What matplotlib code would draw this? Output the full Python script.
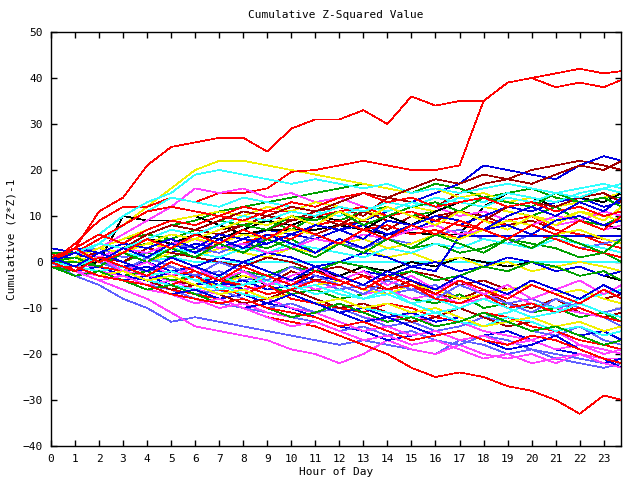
import matplotlib
matplotlib.use("Agg")
from matplotlib import pyplot as plt

# sample times (hour of day), one value per hour plus the last quarter
hours = list(range(24)) + [23.75]

# cumulative (Z*Z)-1 runs, grouped by line colour
red_lines = [
    [0, 3, 11, 14, 21, 25, 26, 27, 27, 24, 29, 31, 31, 33, 30, 36, 34, 35, 35, 39, 40, 38, 39, 38, 39.6],
    [0, 4, 9, 12, 12, 14, 13, 15, 15, 16, 19.6, 20, 21, 22, 21, 20, 20, 21, 35, 39, 40, 41, 42, 41, 41.5],
    [0, -1, -2, -3, -4, -6, -7, -8, -10, -12, -13, -14, -16, -18, -20, -23, -25, -24, -25, -27, -28, -30, -33, -29, -30],
    [1, 2, 5, 8, 11, 12, 11, 10, 12, 11, 11, 10, 11, 12, 10, 11, 9, 8, 7, 9, 10, 7, 6, 4, 3],
    [0, -1, 1, 3, 2, 4, 5, 3, 4, 6, 5, 8, 9, 7, 8, 6, 7, 5, 9, 8, 6, 5, 3, 2, 1],
    [2, -2, -3, -2, -4, -5, -3, -6, -7, -5, -8, -9, -10, -11, -9, -10, -12, -13, -11, -12, -14, -15, -17, -18, -19],
    [0, 1, -1, -2, 0, -3, -2, -4, -5, -7, -6, -4, -5, -3, -6, -5, -8, -9, -7, -10, -9, -11, -10, -12, -13],
    [0, 3, 6, 4, 7, 9, 8, 10, 9, 11, 13, 12, 14, 15, 13, 14, 12, 13, 14, 12, 13, 11, 12, 10, 11],
    [-1, -1, -3, -4, -5, -7, -8, -9, -8, -10, -11, -12, -14, -13, -15, -17, -16, -15, -17, -18, -16, -17, -19, -21, -22],
    [0, -2, 1, -1, -3, 0, -2, -4, -1, -3, -5, -2, -4, -6, -3, -5, -7, -4, -6, -8, -5, -7, -9, -6, -8],
    [1, 3, 0, 2, 5, 3, 6, 4, 7, 5, 8, 6, 4, 7, 5, 8, 6, 9, 7, 5, 8, 6, 9, 7, 10],
]
darkred_lines = [
    [0, 1, 3, 2, 4, 6, 5, 7, 8, 10, 9, 11, 12, 10, 14, 13, 12, 15, 17, 18, 20, 21, 22, 21, 20],
    [1, -1, 0, 2, 1, 3, 2, 4, 6, 5, 7, 6, 8, 9, 7, 10, 9, 11, 10, 8, 9, 7, 6, 5, 4],
    [0, -2, -1, -3, -2, -4, -5, -3, -6, -5, -2, -4, -3, -5, -6, -4, -7, -8, -6, -9, -10, -8, -11, -12, -11],
    [2, 2, 1, 0, 3, 2, 1, 0, -1, 1, 0, -2, -1, -3, -4, -2, -3, -5, -4, -6, -5, -7, -6, -8, -7],
    [0, 1, 2, 4, 3, 5, 7, 6, 8, 7, 9, 10, 8, 11, 9, 8, 10, 11, 9, 12, 13, 12, 14, 15, 13],
    [0, -1, -3, -2, -4, -6, -5, -7, -9, -8, -6, -8, -10, -9, -11, -13, -12, -10, -12, -14, -13, -15, -14, -16, -15],
    [0, 2, 4, 3, 6, 8, 7, 9, 11, 10, 12, 11, 13, 15, 14, 16, 18, 17, 19, 18, 17, 19, 21, 20, 22],
]
green_lines = [
    [0, 1, 3, 5, 6, 8, 9, 11, 12, 13, 14, 15, 16, 17, 16, 15, 17, 16, 14, 15, 16, 14, 13, 14, 14],
    [1, 2, 1, 3, 4, 5, 7, 6, 8, 9, 7, 10, 9, 11, 12, 10, 11, 13, 12, 11, 10, 12, 9, 8, 10],
    [0, -1, 1, 0, 2, 1, 3, 2, 4, 3, 5, 2, 4, 6, 5, 3, 4, 2, 3, 5, 4, 3, 1, 2, 0],
    [-1, -2, -3, -2, -4, -3, -5, -4, -6, -5, -7, -6, -8, -7, -6, -8, -9, -7, -10, -9, -11, -10, -12, -11, -13],
    [0, 0, -1, -3, -2, -4, -3, -5, -2, -3, -1, -2, 0, -1, -3, -2, -4, -3, -1, -2, 0, -1, -3, -2, -4],
    [2, 2, 4, 3, 6, 5, 7, 9, 8, 7, 10, 9, 11, 8, 10, 12, 13, 11, 14, 13, 12, 15, 13, 14, 12],
    [0, 1, -1, 2, 0, 3, 1, 4, 2, 5, 3, 1, 4, 2, 5, 3, 6, 4, 2, 5, 3, 6, 4, 2, 5],
    [-1, -3, -2, -4, -6, -5, -7, -9, -8, -10, -12, -11, -9, -11, -13, -12, -14, -13, -11, -13, -15, -14, -16, -18, -17],
]
blue_lines = [
    [0, 1, 2, 0, 3, 2, 4, 3, 5, 7, 6, 8, 7, 9, 11, 13, 15, 17, 21, 20, 19, 18, 21, 23, 22],
    [0, -1, -2, -4, -3, -5, -6, -8, -7, -9, -10, -12, -14, -15, -17, -16, -15, -17, -16, -15, -17, -19, -20, -22, -21],
    [3, 2, 1, 3, 5, 4, 6, 5, 3, 4, 6, 5, 7, 8, 6, 7, 9, 8, 10, 12, 11, 13, 14, 12, 13],
    [0, -1, 1, -1, 0, -2, -1, 1, 0, 2, 1, -1, 0, 2, 1, -1, 0, -2, -1, 1, 0, -2, -1, -3, -2],
    [0, -2, -1, -3, -4, -2, -3, -5, -4, -6, -5, -3, -4, -2, -3, -1, -2, 5.6, 5.6, 5.6, 5.6, 5.6, 5.6, 5.6, 5.6],
    [1, 1, -1, -2, -1, -3, -5, -4, -6, -8, -7, -9, -11, -10, -12, -11, -13, -12, -14, -13, -15, -14, -16, -15, -17],
    [0, 3, 2, 4, 3, 5, 3, 6, 5, 4, 6, 8, 7, 5, 9, 8, 10, 9, 7, 8, 6, 9, 10, 8, 9],
    [0, -2, -4, -3, -5, -7, -6, -8, -10, -9, -7, -9, -11, -13, -12, -14, -16, -15, -17, -19, -18, -16, -19, -21, -23],
    [0, 2, 0, 3, 1, 4, 2, 5, 3, 6, 4, 2, 5, 3, 6, 8, 6, 9, 7, 10, 12, 10, 13, 11, 14],
    [1, -1, 2, 0, -2, 1, -1, -3, 0, -2, -4, -1, -3, -5, -2, -4, -6, -3, -5, -7, -4, -6, -8, -5, -7],
]
lightblue_lines = [
    [0, -3, -5, -8, -10, -13, -12, -13, -14, -15, -16, -17, -18, -17, -18, -19, -20, -17, -18, -20, -19, -21, -22, -23, -22],
    [0, -1, -2, -3, -5, -6, -8, -9, -10, -11, -12, -13, -15, -14, -16, -15, -17, -18, -16, -17, -19, -20, -21, -22, -23],
    [1, 1, 0, -1, -2, -1, -3, -2, -4, -3, -5, -4, -6, -5, -7, -6, -5, -8, -7, -9, -8, -10, -9, -11, -10],
    [0, 2, 3, 1, 2, 4, 3, 2, 4, 5, 3, 6, 4, 3, 5, 4, 6, 7, 5, 4, 6, 5, 3, 4, 5],
    [0, -1, -3, -2, -4, -5, -7, -6, -8, -10, -9, -11, -10, -12, -14, -13, -15, -14, -12, -13, -15, -16, -14, -17, -18],
    [0, 2, 0, -2, 1, -1, -3, 0, -2, -4, -1, -3, -5, -7, -4, -6, -8, -5, -7, -9, -11, -8, -10, -12, -14],
]
magenta_lines = [
    [0, -2, -4, -6, -8, -11, -14, -15, -16, -17, -19, -20, -22, -20, -17, -19, -20, -18, -20, -21, -20, -22, -20, -21, -21],
    [0, 1, 3, 6, 9, 12, 16, 15, 16, 14, 15, 13, 14, 12, 11, 13, 12, 10, 11, 9, 10, 8, 9, 7, 8],
    [0, -1, -2, -3, -5, -4, -6, -7, -9, -8, -10, -11, -10, -12, -13, -11, -14, -13, -15, -16, -17, -15, -18, -19, -20],
    [-1, -1, -1, -2, -3, -4, -3, -5, -6, -5, -4, -6, -5, -7, -6, -8, -7, -9, -8, -7, -9, -10, -11, -12, -13],
    [0, 2, 1, 3, 2, 4, 5, 3, 4, 2, 3, 5, 4, 6, 5, 7, 8, 6, 7, 9, 8, 10, 9, 11, 10],
    [0, -2, -3, -4, -6, -7, -8, -10, -9, -11, -12, -11, -13, -15, -14, -16, -15, -17, -16, -18, -17, -19, -18, -20, -19],
    [0, -1, 1, -2, 0, -3, -1, -4, -2, -5, -3, -1, -4, -2, -5, -3, -6, -4, -7, -5, -8, -6, -4, -7, -5],
    [0, -2, -4, -3, -5, -7, -9, -8, -10, -12, -14, -13, -15, -17, -16, -18, -17, -19, -21, -20, -22, -21, -20, -22, -23],
]
cyan_lines = [
    [0, 1, -1, 2, 0, 1, 0, 0, 0, 0, 0, 0, 0, 0, 0, 0, 0, 0, 0, 0, 0, 0, 0, 0, 0],
    [0, 3, 6, 10, 13, 15, 19, 20, 19, 18, 17, 18, 17, 16, 17, 15, 16, 15, 16, 17, 16, 15, 16, 17, 16],
    [1, 1, 4, 8, 11, 14, 13, 12, 14, 13, 12, 11, 10, 12, 11, 13, 12, 14, 13, 15, 14, 13, 15, 16, 17],
    [0, 1, 0, 2, 1, 3, 2, 1, 3, 2, 4, 3, 2, 1, 3, 2, 4, 3, 5, 4, 3, 5, 4, 3, 2],
    [0, -1, -2, -1, -3, -2, -4, -3, -5, -4, -6, -5, -7, -8, -6, -9, -8, -10, -12, -11, -9, -10, -8, -7, -6],
    [-1, -1, -3, -2, -4, -5, -6, -5, -7, -8, -7, -9, -8, -10, -11, -12, -11, -13, -14, -12, -13, -15, -14, -16, -15],
    [0, 2, 4, 3, 5, 7, 6, 8, 10, 9, 11, 10, 12, 11, 13, 12, 14, 13, 12, 14, 13, 15, 14, 16, 15],
    [0, -1, 1, -1, -3, -2, -4, -6, -5, -3, -5, -7, -6, -8, -7, -9, -11, -10, -8, -10, -12, -11, -9, -11, -12],
]
yellow_lines = [
    [0, 2, 5, 8, 12, 16, 20, 22, 22, 21, 20, 19, 18, 17, 16, 15, 16, 14, 15, 13, 14, 12, 13, 14, 15],
    [0, 1, 3, 5, 7, 9, 10, 11, 10, 12, 11, 13, 12, 11, 10, 12, 11, 13, 12, 11, 10, 9, 11, 10, 9],
    [2, 0, 1, -1, 0, 2, 1, 3, 2, 1, 3, 2, 4, 3, 1, 2, 0, 1, -1, 0, -2, -1, 0, -1, -2],
    [0, -1, -2, -1, -3, -2, -4, -5, -3, -4, -6, -5, -4, -6, -7, -5, -6, -8, -7, -6, -5, -7, -6, -8, -9],
    [0, 1, 0, 2, 4, 3, 5, 4, 6, 5, 7, 6, 4, 5, 3, 4, 6, 5, 7, 9, 8, 6, 7, 5, 4],
    [0, 1, 3, 2, 4, 6, 5, 7, 9, 8, 10, 8, 11, 9, 12, 10, 8, 11, 9, 7, 10, 8, 11, 9, 12],
    [0, -1, -3, -2, -4, -3, -5, -7, -6, -8, -7, -9, -8, -10, -9, -11, -10, -12, -14, -13, -12, -14, -13, -15, -14],
]
black_lines = [
    [0, 1, 0, 10, 9, 9, 10, 8, 6, 7, 7, 7, 8, 7, 6, 6.3, 6, 6, 12, 15, 14, 12, 9, 8, 7],
    [0, -1, 0, -2, -1, -3, -2, -4, -3, -5, -4, -2, -3, -1, -2, 0, -1, 1, 0, -1, 0, -2, -1, -3, -4],
    [0, 2, 1, 3, 5, 4, 6, 5, 7, 9, 8, 10, 9, 7, 10, 8, 11, 13, 12, 14, 13, 15, 14, 13, 15],
]

groups = [
    (red_lines, "#ff0000"),
    (darkred_lines, "#a00000"),
    (green_lines, "#00a000"),
    (blue_lines, "#0000e0"),
    (lightblue_lines, "#6060ff"),
    (magenta_lines, "#ff40ff"),
    (cyan_lines, "#30ffff"),
    (yellow_lines, "#f0f000"),
    (black_lines, "#000000"),
]

plt.rcParams["font.family"] = "DejaVu Sans Mono"
plt.rcParams["font.size"] = 8

fig = plt.figure(figsize=(6.4, 4.8), dpi=100)
ax = fig.add_axes([51 / 640, 1 - 446 / 480, 570 / 640, 414 / 480])

# interleave colours so no single colour sits on top of everything
n_max = max(len(g[0]) for g in groups)
for i in range(n_max):
    for lines, color in groups:
        if i < len(lines):
            ax.plot(hours, lines[i], color=color, lw=0.5, antialiased=False)

ax.set_xlim(0, 23.72)
ax.set_ylim(-40, 50)
ax.set_xticks(range(24))
ax.set_yticks(range(-40, 51, 10))
ax.tick_params(direction="in", length=4, width=1, top=True, right=True, pad=6)
for s in ax.spines.values():
    s.set_linewidth(1)

ax.set_title("Cumulative Z-Squared Value", fontsize=8, pad=10)
ax.set_xlabel("Hour of Day", labelpad=2)
ax.set_ylabel("Cumulative (Z*Z)-1", labelpad=4)

fig.savefig("out.png", dpi=100)
